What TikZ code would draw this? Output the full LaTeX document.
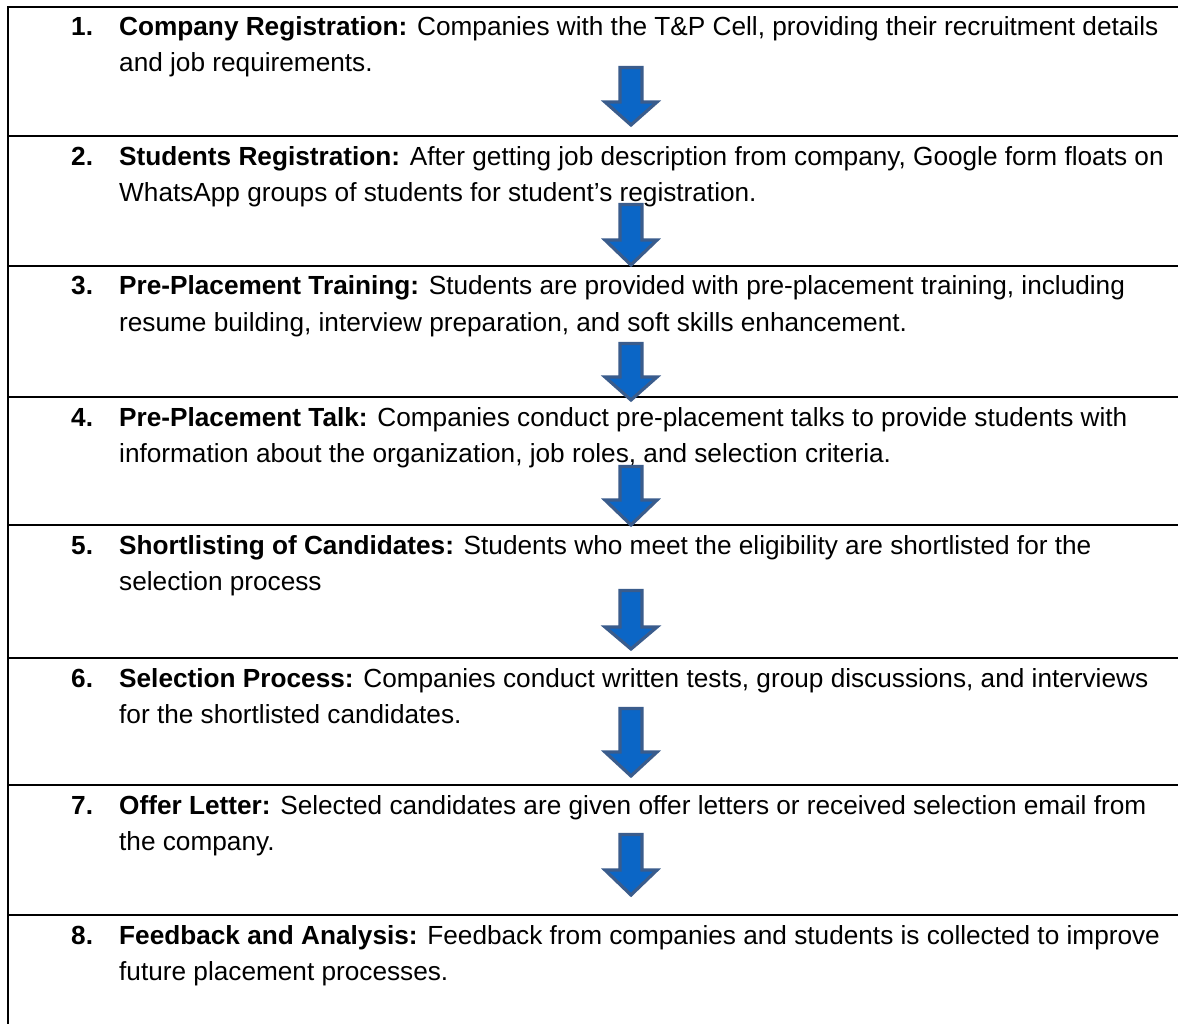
\documentclass[tikz,border=0pt]{standalone}
\usepackage{fontspec}
\setmainfont{Liberation Sans}
\definecolor{arrowfill}{HTML}{0B66C6}
\definecolor{arrowedge}{HTML}{3A5C8C}
\tikzset{
  rule/.style={line width=2pt, black},
  stepnum/.style={anchor=base west, inner sep=0pt, font=\fontsize{26.2}{31}\selectfont\bfseries},
  steptext/.style={anchor=base west, inner sep=0pt, font=\fontsize{26.2}{31}\selectfont},
  blockarrow/.style={fill=arrowfill, draw=arrowedge, line width=3.2pt, line join=miter}
}
% downward block arrow: #1 top of shaft, #2 start of head, #3 tip
\newcommand\flowdown[3]{%
  \draw[blockarrow] (620,#1) -- (642,#1) -- (642,#2) -- (657,#2) -- (631,#3)
    -- (605,#2) -- (620,#2) -- cycle;}
\begin{document}
\begin{tikzpicture}[x=1pt, y=-1pt]
\useasboundingbox (0,0) rectangle (1178,1024);
\fill[white] (0,0) rectangle (1178,1024);

% table frame: left edge and row separators
\draw[rule] (8,7) -- (8,1024);
\foreach \yy in {7,136,266,397,525,658,785,915}
  \draw[rule] (7,\yy) -- (1178,\yy);

% step 1
\node[stepnum] (n1) at (71,36) {1.};
\node[steptext] (t1a) at (119,36) {\textbf{Company Registration:} Companies with the T\&P Cell, providing their recruitment details};
\node[steptext] (t1b) at (119,72) {and job requirements.};
% step 2
\node[stepnum] (n2) at (71,166) {2.};
\node[steptext] (t2a) at (119,166) {\textbf{Students Registration:} After getting job description from company, Google form floats on};
\node[steptext] (t2b) at (119,202) {WhatsApp groups of students for student’s registration.};
% step 3
\node[stepnum] (n3) at (71,295) {3.};
\node[steptext] (t3a) at (119,295) {\textbf{Pre-Placement Training:} Students are provided with pre-placement training, including};
\node[steptext] (t3b) at (119,331) {resume building, interview preparation, and soft skills enhancement.};
% step 4
\node[stepnum] (n4) at (71,426) {4.};
\node[steptext] (t4a) at (119,426) {\textbf{Pre-Placement Talk:} Companies conduct pre-placement talks to provide students with};
\node[steptext] (t4b) at (119,462) {information about the organization, job roles, and selection criteria.};
% step 5
\node[stepnum] (n5) at (71,554) {5.};
\node[steptext] (t5a) at (119,554) {\textbf{Shortlisting of Candidates:} Students who meet the eligibility are shortlisted for the};
\node[steptext] (t5b) at (119,590) {selection process};
% step 6
\node[stepnum] (n6) at (71,687) {6.};
\node[steptext] (t6a) at (119,687) {\textbf{Selection Process:} Companies conduct written tests, group discussions, and interviews};
\node[steptext] (t6b) at (119,723) {for the shortlisted candidates.};
% step 7
\node[stepnum] (n7) at (71,814) {7.};
\node[steptext] (t7a) at (119,814) {\textbf{Offer Letter:} Selected candidates are given offer letters or received selection email from};
\node[steptext] (t7b) at (119,850) {the company.};
% step 8
\node[stepnum] (n8) at (71,944) {8.};
\node[steptext] (t8a) at (119,944) {\textbf{Feedback and Analysis:} Feedback from companies and students is collected to improve};
\node[steptext] (t8b) at (119,980) {future placement processes.};

% flow arrows between the steps
\flowdown{67.5}{102}{125}
\flowdown{204.5}{240}{265}
\flowdown{343.5}{377}{400}
\flowdown{466.5}{500}{525}
\flowdown{590.5}{627}{649}
\flowdown{708.5}{752}{776}
\flowdown{834.5}{870}{895}
\end{tikzpicture}
\end{document}
